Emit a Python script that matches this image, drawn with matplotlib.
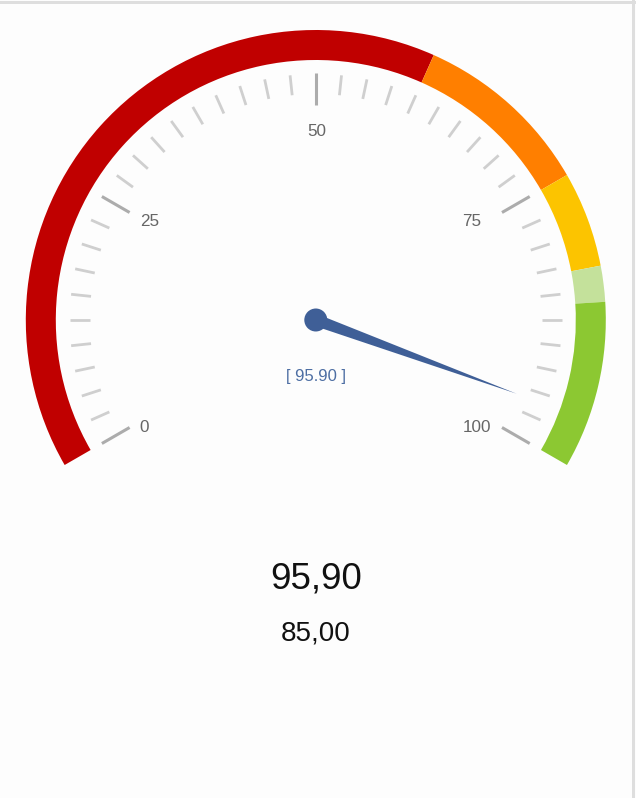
import numpy as np
import matplotlib
matplotlib.use("Agg")
import matplotlib.pyplot as plt
from matplotlib.patches import Wedge, Circle, Polygon, Rectangle

# gauge data
band_from = [0, 60, 75, 83, 86]
band_to = [60, 75, 83, 86, 100]
band_colors = ["#c00000", "#ff7f00", "#fcc400", "#c4e19b", "#8cc832"]
major_ticks = [0, 25, 50, 75, 100]
minor_step = 2.5
value = 95.90
target = 85.00
value_label = "[ 95.90 ]"
big_text = "95,90"
small_text = "85,00"

# layout (pixels)
W, H = 636, 798
cx, cy = 315.8, H - 320
r_out, band_w = 290, 30
a_start, a_end = 210, -30
vmin, vmax = 0, 100


def ang(v):
    return a_start + (a_end - a_start) * (v - vmin) / (vmax - vmin)


def pt(v, r):
    a = np.radians(ang(v))
    return cx + r * np.cos(a), cy + r * np.sin(a)


fig = plt.figure(figsize=(W / 100, H / 100), dpi=100)
fig.patch.set_facecolor("#fdfdfd")
ax = fig.add_axes([0, 0, 1, 1])
ax.set_xlim(0, W)
ax.set_ylim(0, H)
ax.set_aspect("equal")
ax.axis("off")

# colour bands
for f, t, c in zip(band_from, band_to, band_colors):
    ax.add_patch(Wedge((cx, cy), r_out, ang(t), ang(f), width=band_w,
                       facecolor=c, edgecolor="none"))

# ticks
for v in np.arange(vmin, vmax + 0.01, minor_step):
    if v in major_ticks:
        continue
    x0, y0 = pt(v, 226)
    x1, y1 = pt(v, 246)
    ax.plot([x0, x1], [y0, y1], color="#cfcfcf", lw=2.0, solid_capstyle="butt")
for v in major_ticks:
    x0, y0 = pt(v, 215)
    x1, y1 = pt(v, 247)
    ax.plot([x0, x1], [y0, y1], color="#acacac", lw=2.2, solid_capstyle="butt")

# tick labels
nudge = {0: (-7, -12), 25: (-2, 3), 50: (1, -1), 75: (-9, 3), 100: (-3, -12)}
for v in major_ticks:
    x, y = pt(v, 190)
    dx, dy = nudge[v]
    ax.text(x + dx, y + dy, str(v), ha="center", va="center", fontsize=12.3,
            color="#666666", family="Liberation Sans")

# needle
a = np.radians(ang(value))
tip = (cx + 214 * np.cos(a), cy + 214 * np.sin(a))
nx, ny = -np.sin(a), np.cos(a)
base1 = (cx + 6 * nx, cy + 6 * ny)
base2 = (cx - 6 * nx, cy - 6 * ny)
ax.add_patch(Polygon([base1, tip, base2], closed=True, facecolor="#3f5f97",
                     edgecolor="none"))
ax.add_patch(Circle((cx, cy), 11.5, facecolor="#3f5f97", edgecolor="none"))

ax.text(cx, H - 377, value_label, ha="center", va="center", fontsize=12,
        color="#4d6ea3", family="Liberation Sans")

ax.text(cx, H - 579, big_text, ha="center", va="center", fontsize=26.5,
        color="#111111", family="Liberation Sans")
ax.text(cx, H - 633, small_text, ha="center", va="center", fontsize=20,
        color="#111111", family="Liberation Sans")

# frame edges
fig.patches.append(Rectangle((0, 1 - 4 / H), 1, 3 / H, transform=fig.transFigure,
                             facecolor="#dedede", edgecolor="none"))
fig.patches.append(Rectangle((1 - 4 / W, 0), 3 / W, 1, transform=fig.transFigure,
                             facecolor="#dedede", edgecolor="none"))

fig.savefig("out.png", dpi=100, facecolor=fig.get_facecolor())
